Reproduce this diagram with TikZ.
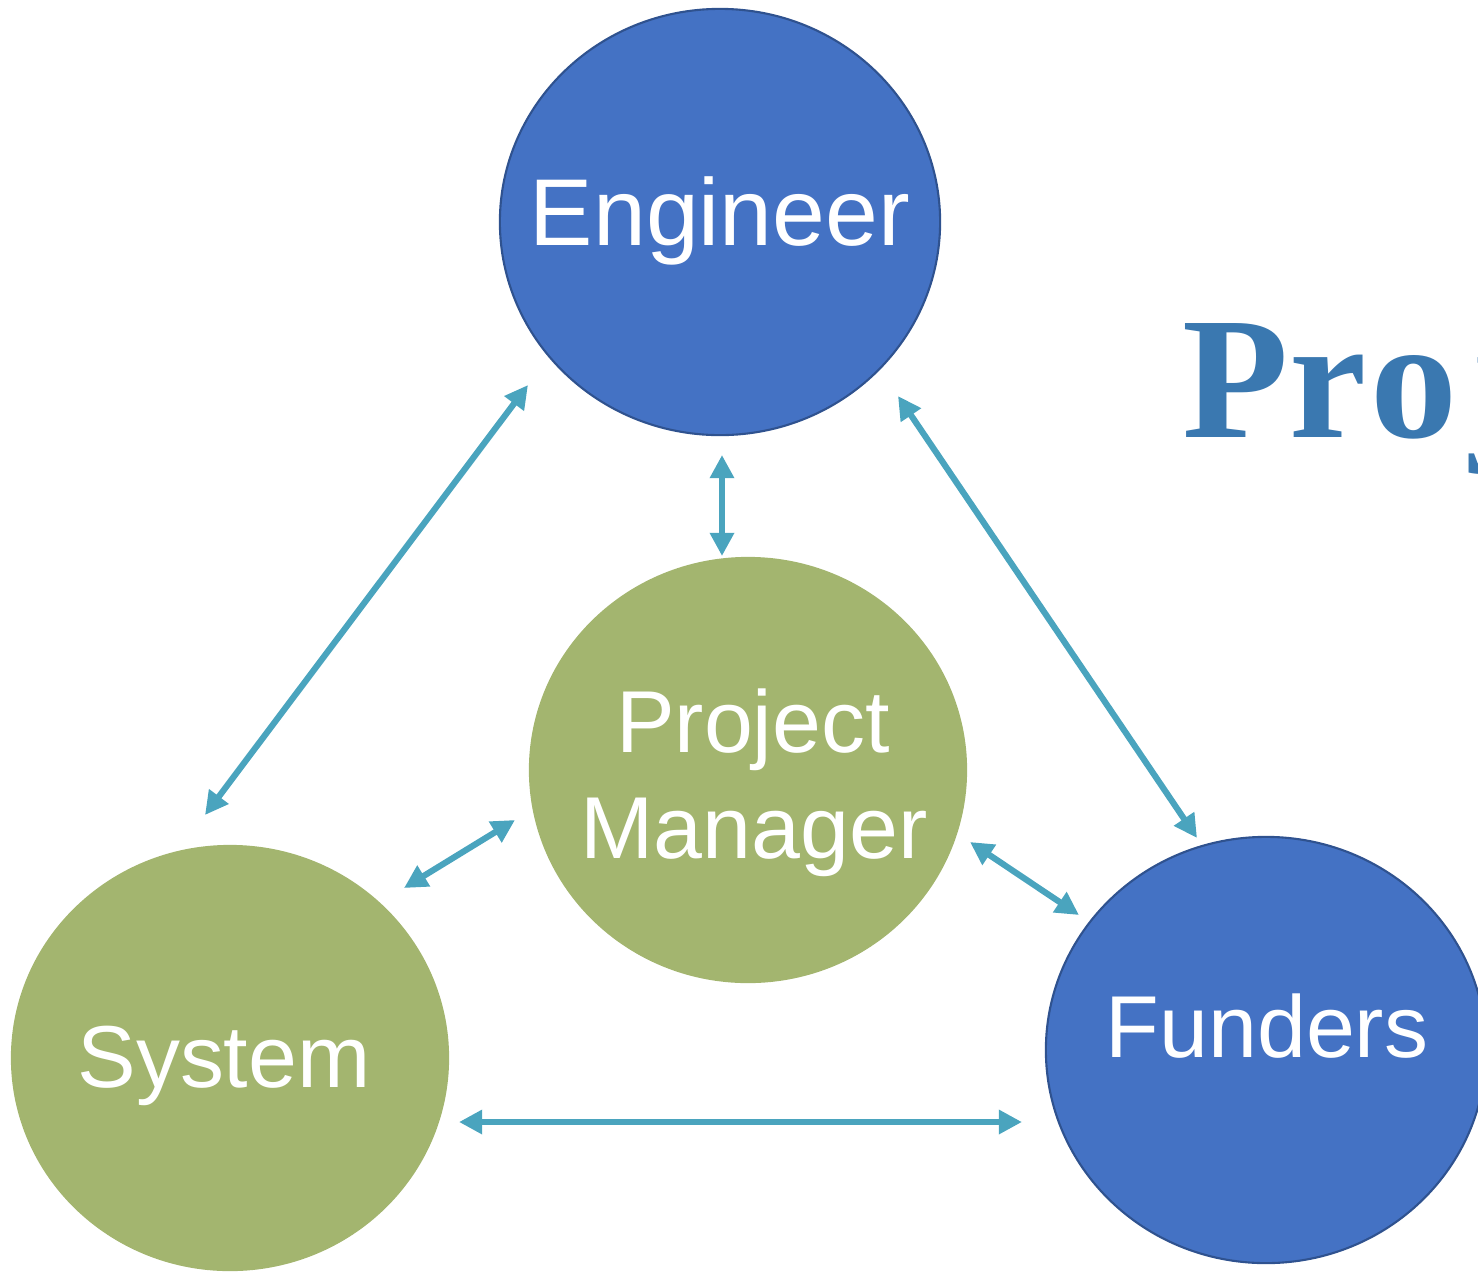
\documentclass[tikz,border=0pt]{standalone}
\usepackage{fontspec}
\setmainfont{Liberation Sans}
\newfontfamily\titlefont{Liberation Serif}
\usetikzlibrary{arrows.meta,shapes.geometric}
\definecolor{nodeblue}{HTML}{4472C4}
\definecolor{nodeblueline}{HTML}{2F528F}
\definecolor{nodegreen}{HTML}{A3B56F}
\definecolor{linkcol}{HTML}{4AA4BE}
\definecolor{titlecol}{HTML}{3A78B0}
\tikzset{
  bluenode/.style={ellipse, fill=nodeblue, draw=nodeblueline, line width=0.6pt, minimum width=4.4cm, minimum height=4.26cm, inner sep=0pt, text=white},
  greennode/.style={ellipse, fill=nodegreen, minimum width=4.38cm, minimum height=4.26cm, inner sep=0pt, text=white, align=center},
  link/.style={draw=linkcol, line width=1.75pt, {Triangle[length=6.6pt,width=6.6pt]}-{Triangle[length=6.6pt,width=6.6pt]}},
  lbl/.style={font=\fontsize{25}{30}\selectfont}
}
\begin{document}
\begin{tikzpicture}[x=0.01cm,y=-0.01cm]
\useasboundingbox (0,0) rectangle (1478,1272);
\clip (0,0) rectangle (1478,1272);
\node[bluenode] (eng) at (720,222) {};
\node[greennode] (pm) at (748,770) {};
\node[greennode] (sys) at (230,1058) {};
\node[bluenode] (fun) at (1266,1050) {};
\node[text=white, anchor=base, inner sep=0pt, font=\fontsize{27}{32}\selectfont] (engt) at (720,245) {Engineer};
\node[text=white, anchor=base, inner sep=0pt, lbl] (pmt1) at (753,752) {Project};
\node[text=white, anchor=base, inner sep=0pt, lbl] (pmt2) at (754,858) {Manager};
\node[text=white, anchor=base, inner sep=0pt, lbl] (syst) at (224,1087) {System};
\node[text=white, anchor=base, inner sep=0pt, lbl] (funt) at (1267,1057) {Funders};
\node[text=titlecol, anchor=base west, inner sep=0pt, font=\titlefont\bfseries\fontsize{49.5}{55}\selectfont] (title) at (1182,437) {Pr\kern1.2pt o\kern3.6pt ject};
\coordinate (a1) at (528,385); \coordinate (a2) at (205,815);
\coordinate (b1) at (722,455); \coordinate (b2) at (722,556);
\coordinate (c1) at (898,396); \coordinate (c2) at (1197,838);
\coordinate (d1) at (515,820); \coordinate (d2) at (404,888);
\coordinate (e1) at (970,842); \coordinate (e2) at (1079,915);
\coordinate (f1) at (459,1122); \coordinate (f2) at (1022,1122);
\draw[link] (a1) -- (a2);
\draw[link] (b1) -- (b2);
\draw[link] (c1) -- (c2);
\draw[link] (d1) -- (d2);
\draw[link] (e1) -- (e2);
\draw[link] (f1) -- (f2);
\end{tikzpicture}
\end{document}
